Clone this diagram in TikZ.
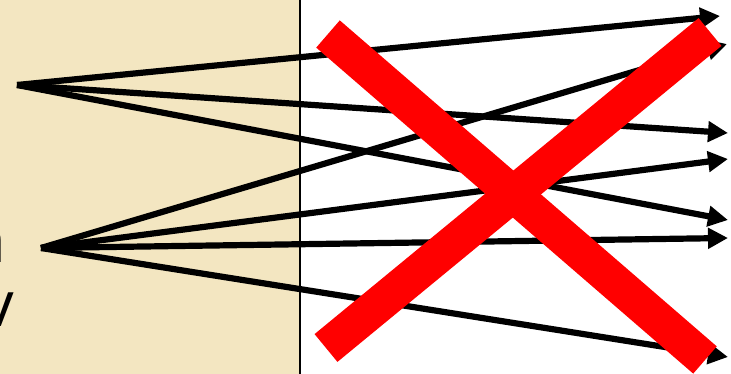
\documentclass[tikz,border=0pt]{standalone}
\usepackage{fontspec}
\setsansfont{Open Sans}
\usepackage{xcolor}
\usetikzlibrary{arrows.meta}
\definecolor{sand}{HTML}{F3E6C1}
\definecolor{crossred}{HTML}{FF0000}

\begin{document}
\begin{tikzpicture}[
x=1pt,y=-1pt,
arr/.style={-{Triangle[length=20pt,width=20pt]},line width=6.2pt,draw=black},
cross/.style={line width=36pt,draw=crossred},
glyph/.style={inner sep=0pt,font=\sffamily\fontsize{63}{63}\selectfont}
]
\useasboundingbox (0,0) rectangle (731,374);
\fill[sand] (0,0) rectangle (300,374);
\draw[line width=1.8pt] (300,0) -- (300,374);
\node[glyph,anchor=base east] (lblA) at (6.5,262) {n};
\node[glyph,anchor=base east] (lblB) at (14,326) {v};
% sources
\coordinate (srcA) at (17,85);
\coordinate (srcB) at (41,248);
% targets
\coordinate (t1) at (720,16);
\coordinate (t2) at (727,44);
\coordinate (t3) at (728,133);
\coordinate (t4) at (728,159);
\coordinate (t5) at (728,220);
\coordinate (t6) at (728,238);
\coordinate (t7) at (728,357);
\draw[arr] (srcA) -- (t1);
\draw[arr] (srcA) -- (t3);
\draw[arr] (srcA) -- (t5);
\draw[arr] (srcB) -- (t2);
\draw[arr] (srcB) -- (t4);
\draw[arr] (srcB) -- (t6);
\draw[arr] (srcB) -- (t7);
% the cross
\coordinate (xa) at (328,34);
\coordinate (xb) at (705,360);
\coordinate (xc) at (710,32);
\coordinate (xd) at (326,348);
\draw[cross] (xa) -- (xb);
\draw[cross] (xd) -- (xc);
\end{tikzpicture}
\end{document}
